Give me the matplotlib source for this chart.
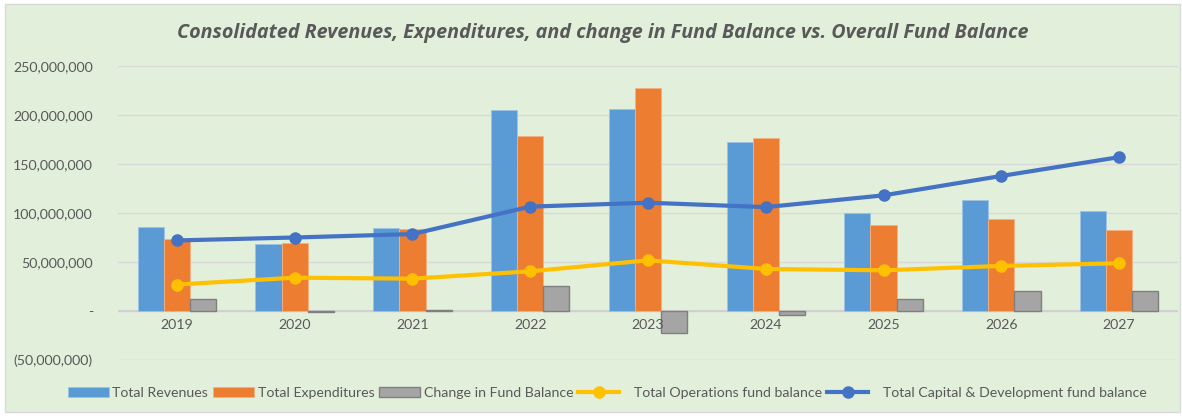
import matplotlib
matplotlib.use("Agg")
import matplotlib.pyplot as plt
import numpy as np
from matplotlib.patches import Rectangle
from matplotlib.ticker import FuncFormatter, MultipleLocator

years = ["2019", "2020", "2021", "2022", "2023", "2024", "2025", "2026", "2027"]
total_revenues = [86e6, 68.7e6, 85e6, 205e6, 206e6, 172.5e6, 99.7e6, 113e6, 102e6]
total_expenditures = [73e6, 69e6, 83.5e6, 178.6e6, 227.6e6, 177e6, 88e6, 93.5e6, 82.6e6]
change_fund_balance = [12e6, -1e6, 1e6, 26e6, -22e6, -4.5e6, 12e6, 20e6, 20e6]
ops_fund_balance = [27e6, 34e6, 33e6, 40.5e6, 51.7e6, 42.9e6, 41.5e6, 46e6, 48.7e6]
cap_dev_fund_balance = [72e6, 75e6, 78.5e6, 106.5e6, 110.5e6, 106e6, 118e6, 137.8e6, 157e6]

plt.rcParams["font.family"] = ["Lato", "DejaVu Sans"]

W, H = 1182, 416
fig = plt.figure(figsize=(W / 100, H / 100), dpi=100, facecolor="white")
fig.patches.append(Rectangle((5 / W, 4 / H), (W - 7) / W, (H - 8) / H, transform=fig.transFigure,
                             facecolor="#E2EFDA", edgecolor="#D9D9D9", linewidth=1, zorder=-5))

ax = fig.add_axes([118 / W, 1 - 360 / H, (1178 - 118) / W, (360 - 66) / H], zorder=2)
ax.set_facecolor("none")

x = np.arange(len(years))
bw = 0.222
b1 = ax.bar(x - bw, total_revenues, bw, color="#5B9BD5", edgecolor="#9DC3E6", linewidth=0.6,
            label="Total Revenues", zorder=3)
b2 = ax.bar(x, total_expenditures, bw, color="#ED7D31", edgecolor="#F4B183", linewidth=0.6,
            label="Total Expenditures", zorder=3)
b3 = ax.bar(x + bw, change_fund_balance, bw, color="#A5A5A5", edgecolor="#7F7F7F", linewidth=1.0,
            label="Change in Fund Balance", zorder=3)
l1, = ax.plot(x, ops_fund_balance, color="#FFC000", linewidth=3, marker="o", markersize=8,
              label="Total Operations fund balance", zorder=4)
l2, = ax.plot(x, cap_dev_fund_balance, color="#4472C4", linewidth=3, marker="o", markersize=8,
              label="Total Capital & Development fund balance", zorder=4)

ax.set_xlim(-0.5, len(years) - 0.5)
ax.set_ylim(-50e6, 250e6)
ax.yaxis.set_major_locator(MultipleLocator(50e6))


def fmt(v, pos):
    if abs(v) < 1:
        return "-"
    if v < 0:
        return "({:,.0f})".format(-v)
    return "{:,.0f}".format(v)


ax.yaxis.set_major_formatter(FuncFormatter(fmt))
ax.grid(axis="y", color="#D9D9D9", linewidth=1, zorder=0)
ax.axhline(0, color="#D0D0D0", linewidth=1.5, zorder=2)
for s in ax.spines.values():
    s.set_visible(False)
ax.tick_params(axis="both", length=0, labelsize=10.2, colors="#595959")
ax.tick_params(axis="y", pad=18)
ax.set_xticks([])
for i, yr in enumerate(years):
    ax.text(i, -8e6, yr, ha="center", va="top", fontsize=10.2, color="#595959")

fig.text(603 / W, 1 - 33 / H,
         "Consolidated Revenues, Expenditures, and change in Fund Balance vs. Overall Fund Balance",
         ha="center", va="center", fontsize=14.2, fontstyle="italic", fontweight="bold",
         color="#595959", family="Open Sans")

leg = fig.legend([b1, b2, b3, l1, l2],
                 ["Total Revenues", "Total Expenditures", "Change in Fund Balance",
                  "   Total Operations fund balance", "   Total Capital & Development fund balance"],
                 loc="center", bbox_to_anchor=(607 / W, 1 - 393 / H), ncol=5, frameon=False,
                 fontsize=10.2, handlelength=2.9, handletextpad=0.25, columnspacing=0.35)
for t in leg.get_texts():
    t.set_color("#595959")

fig.savefig("out.png", dpi=100, facecolor="white")
